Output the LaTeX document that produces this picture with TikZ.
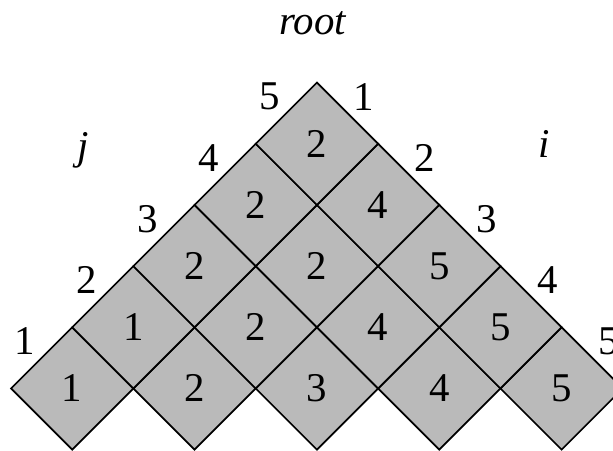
\documentclass[tikz,border=0pt]{standalone}
\usepackage{fontspec}
\setmainfont{Liberation Serif}
\usetikzlibrary{shapes.geometric,positioning}

\begin{document}
\begin{tikzpicture}[cell/.style={diamond, draw, line width=0.8pt, fill=black!27, minimum width=2cm, minimum height=2cm, inner sep=0pt, outer sep=0pt, font=\fontsize{19}{22}\selectfont}, lbl/.style={inner sep=0pt, font=\fontsize{19}{22}\selectfont}]
  \useasboundingbox (0,0) rectangle (10.02,7.37);
  % bottom row
  \node[cell] (a1) at (1.18,1.02) {1};
  \node[cell, anchor=west] (a2) at (a1.east) {2};
  \node[cell, anchor=west] (a3) at (a2.east) {3};
  \node[cell, anchor=west] (a4) at (a3.east) {4};
  \node[cell, anchor=west] (a5) at (a4.east) {5};
  % upper rows
  \node[cell, anchor=south] (b1) at (a1.east) {1};
  \node[cell, anchor=south] (b2) at (a2.east) {2};
  \node[cell, anchor=south] (b3) at (a3.east) {4};
  \node[cell, anchor=south] (b4) at (a4.east) {5};
  \node[cell, anchor=south] (c1) at (b1.east) {2};
  \node[cell, anchor=south] (c2) at (b2.east) {2};
  \node[cell, anchor=south] (c3) at (b3.east) {5};
  \node[cell, anchor=south] (d1) at (c1.east) {2};
  \node[cell, anchor=south] (d2) at (c2.east) {4};
  \node[cell, anchor=south] (e1) at (d1.east) {2};
  % j side
  \node[lbl] (j1) at ([shift={(-0.27,0.27)}]a1.north west) {1};
  \node[lbl] (j2) at ([shift={(-0.27,0.27)}]b1.north west) {2};
  \node[lbl] (j3) at ([shift={(-0.27,0.27)}]c1.north west) {3};
  \node[lbl] (j4) at ([shift={(-0.27,0.27)}]d1.north west) {4};
  \node[lbl] (j5) at ([shift={(-0.27,0.27)}]e1.north west) {5};
  % i side
  \node[lbl] (i1) at ([shift={(0.27,0.27)}]e1.north east) {1};
  \node[lbl] (i2) at ([shift={(0.27,0.27)}]d2.north east) {2};
  \node[lbl] (i3) at ([shift={(0.27,0.27)}]c3.north east) {3};
  \node[lbl] (i4) at ([shift={(0.27,0.27)}]b4.north east) {4};
  \node[lbl] (i5) at ([shift={(0.27,0.27)}]a5.north east) {5};
  \node[lbl, anchor=base] (jlab) at (1.36,4.76) {\itshape j};
  \node[lbl, anchor=base] (ilab) at (8.89,4.79) {\itshape i};
  \node[lbl, anchor=base] (root) at (5.11,6.80) {\itshape root};
\end{tikzpicture}
\end{document}
